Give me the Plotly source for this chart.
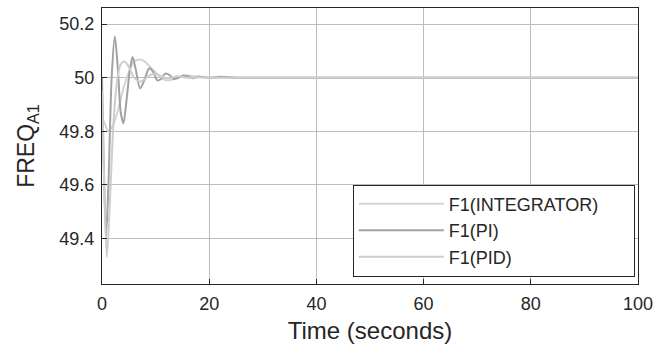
import plotly.graph_objects as go

# Time (s) and frequency values
t_int = [0, 0.5, 1.2, 2.0, 3.0, 4.0, 5.0, 6.0, 7.0, 8.0, 9.0, 10, 11, 12, 13, 14, 15, 16, 18, 20, 23, 26, 30, 100]
f_int = [49.85, 49.83, 49.80, 49.82, 49.88, 49.96, 50.02, 50.06, 50.068, 50.06, 50.04, 50.02, 50.0, 49.99,
         49.992, 50.0, 50.006, 50.008, 50.003, 49.999, 50.001, 50.0, 50.0, 50.0]

t_pi = [0, 0.3, 0.75, 1.2, 1.8, 2.4, 3.0, 3.5, 4.0, 4.6, 5.2, 5.7, 6.3, 7.1, 7.9, 8.8, 9.6, 10.3, 11.0,
        11.8, 12.6, 13.4, 14.3, 15.2, 16, 17, 18, 19, 20, 22, 25, 30, 100]
f_pi = [50.0, 49.7, 49.41, 49.6, 50.0, 50.155, 50.02, 49.87, 49.83, 49.92, 50.03, 50.077, 50.03, 49.96,
        49.99, 50.035, 50.02, 49.99, 49.995, 50.015, 50.01, 49.995, 50.0, 50.008, 50.005, 49.998, 50.004,
        50.002, 50.0, 50.003, 50.0, 50.0, 50.0]

t_pid = [0, 0.4, 0.9, 1.5, 2.2, 2.9, 3.5, 4.2, 5.0, 6.0, 7.0, 8.0, 9.0, 10, 11, 12, 13, 14, 16, 18, 20, 25, 100]
f_pid = [49.95, 49.6, 49.33, 49.55, 49.85, 50.0, 50.05, 50.06, 50.04, 50.0, 49.985, 49.995, 50.01, 50.015,
         50.005, 49.998, 50.0, 50.005, 50.0, 50.002, 50.0, 50.0, 50.0]

x_ticks = [0, 20, 40, 60, 80, 100]
y_ticks = [49.4, 49.6, 49.8, 50.0, 50.2]
y_tick_text = ["49.4", "49.6", "49.8", "50", "50.2"]

names = ["F1(INTEGRATOR)", "F1(PI)", "F1(PID)"]
colors = ["#d4d4d4", "#a2a2a2", "#cdcdcd"]
pad = "\u00a0" * 6  # widens the legend box toward the plot's right edge

fig = go.Figure()
for t, f, n, c in [(t_int, f_int, names[0] + pad, colors[0]),
                   (t_pi, f_pi, names[1], colors[1]),
                   (t_pid, f_pid, names[2], colors[2])]:
    fig.add_trace(go.Scatter(x=t, y=f, name=n, mode="lines",
                             line=dict(color=c, width=2, shape="spline", smoothing=0.8)))

fig.update_layout(
    width=667, height=346,
    margin=dict(l=102, r=29, t=7, b=60),
    paper_bgcolor="white", plot_bgcolor="white",
    font=dict(family="Liberation Sans, Arial, sans-serif", color="#262626"),
    showlegend=True,
    legend=dict(x=0.468, y=0.36, xanchor="left", yanchor="top",
                bgcolor="white", bordercolor="#262626", borderwidth=1,
                font=dict(size=18, color="#262626"), itemwidth=85,
                tracegroupgap=0),
)
fig.update_xaxes(range=[0, 100], tickvals=x_ticks, ticks="inside", ticklen=5,
                 tickcolor="#262626", showline=True, linecolor="#262626", linewidth=1,
                 mirror=True, showgrid=True, gridcolor="#bcbcbc", gridwidth=1,
                 zeroline=False, tickfont=dict(size=18), ticklabelstandoff=3,
                 title=dict(text="Time (seconds)", font=dict(size=24), standoff=9))
fig.update_yaxes(range=[49.23, 50.26], tickvals=y_ticks, ticktext=y_tick_text, ticks="inside",
                 ticklen=5, tickcolor="#262626", showline=True, linecolor="#262626", linewidth=1,
                 mirror=True, showgrid=True, gridcolor="#bcbcbc", gridwidth=1,
                 zeroline=False, tickfont=dict(size=18), ticklabelstandoff=3,
                 title=dict(text="FREQ<sub>A1</sub>", font=dict(size=23), standoff=18))

fig.write_html("out.html")
